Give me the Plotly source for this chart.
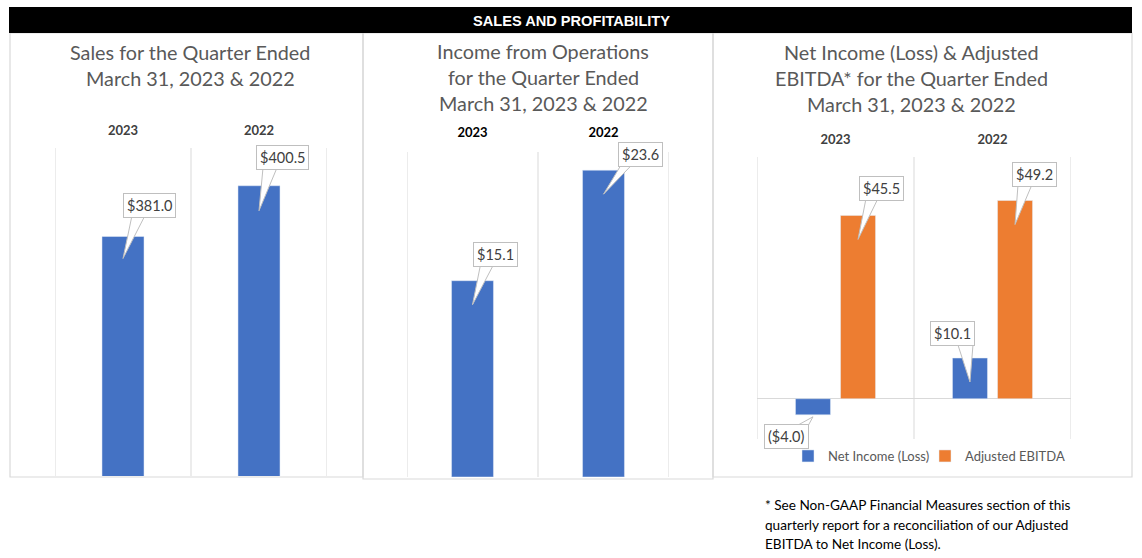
import plotly.graph_objects as go

# ---------------- data ----------------
header_text = "SALES AND PROFITABILITY"
years = ["2023", "2022"]

sales_title = ["Sales for the Quarter Ended", "March 31, 2023 & 2022"]
sales = [381.0, 400.5]

ops_title = ["Income from Operations", "for the Quarter Ended", "March 31, 2023 & 2022"]
income_ops = [15.1, 23.6]

ni_title = ["Net Income (Loss) & Adjusted", "EBITDA* for the Quarter Ended", "March 31, 2023 & 2022"]
net_income = [-4.0, 10.1]
adj_ebitda = [45.5, 49.2]
series_names = ["Net Income (Loss)", "Adjusted EBITDA"]

footnote = ["* See Non-GAAP Financial Measures section of this",
            "quarterly report for a reconciliation of our Adjusted",
            "EBITDA to Net Income (Loss)."]

# ---------------- style ----------------
W, H = 1142, 558
BLUE = "#4472C4"
ORANGE = "#ED7D31"
GRID = "#D9D9D9"
BORDER = "#D9D9D9"
TITLE_C = "#595959"
LABEL_C = "#404040"
FONT = "Lato"


def px(x):
    return x / W


def py(y):
    return 1 - y / H


def fmt(v):
    return f"(${abs(v):.1f})" if v < 0 else f"${v:.1f}"


xs = list(range(len(years)))

fig = go.Figure()

# panel 1
fig.add_trace(go.Bar(x=xs, y=sales, width=0.309, marker_color=BLUE,
                     xaxis="x", yaxis="y", showlegend=False, hoverinfo="skip"))
# panel 2
fig.add_trace(go.Bar(x=xs, y=income_ops, width=0.32, marker_color=BLUE,
                     xaxis="x2", yaxis="y2", showlegend=False, hoverinfo="skip"))
# panel 3
fig.add_trace(go.Bar(x=xs, y=net_income, width=0.223, offset=-0.255, marker_color=BLUE,
                     name=series_names[0], xaxis="x3", yaxis="y3", hoverinfo="skip",
                     legend="legend"))
fig.add_trace(go.Bar(x=xs, y=adj_ebitda, width=0.223, offset=0.032, marker_color=ORANGE,
                     name=series_names[1], xaxis="x3", yaxis="y3", hoverinfo="skip",
                     legend="legend2"))

panels = [
    # xaxis, yaxis, x domain px, y domain px (top, bottom), y range, tick colour, tick gap
    ("x", "y", (55, 327), (148, 476), [289, 415], LABEL_C, 7),
    ("x2", "y2", (407, 669), (152, 477), [0, 25], "#000000", 9),
    ("x3", "y3", (757, 1071), (157, 439), [-10, 60], LABEL_C, 7),
]

layout_axes = {}
shapes = []
for i, (xa, ya, (xl, xr), (yt, yb), yr, tc, tl) in enumerate(panels):
    xkey = "xaxis" if xa == "x" else "xaxis" + xa[1:]
    ykey = "yaxis" if ya == "y" else "yaxis" + ya[1:]
    layout_axes[xkey] = dict(
        domain=[px(xl), px(xr)], anchor=ya, range=[-0.5, len(years) - 0.5],
        side="top", tickmode="array", tickvals=xs, ticktext=years,
        ticks="outside", ticklen=tl, tickcolor="rgba(0,0,0,0)",
        tickfont=dict(family=FONT, size=13, color=tc, weight="bold"),
        showgrid=False, zeroline=False, showline=False, fixedrange=True,
    )
    layout_axes[ykey] = dict(
        domain=[py(yb), py(yt)], anchor=xa, range=yr,
        showticklabels=False, showgrid=False, showline=False, ticks="",
        zeroline=(i == 2), zerolinecolor=GRID, zerolinewidth=1, fixedrange=True,
    )
    for b in range(len(years) + 1):
        shapes.append(dict(type="line", xref=xa, yref=f"{ya} domain",
                           x0=b - 0.5, x1=b - 0.5, y0=0, y1=1,
                           line=dict(color=GRID, width=1), layer="below"))

# panel borders (layout)
for (l, t, r, b) in [(10, 33, 363, 477), (363, 33, 713, 479), (713, 33, 1132, 477)]:
    shapes.append(dict(type="rect", xref="paper", yref="paper",
                       x0=px(l), x1=px(r), y0=py(b), y1=py(t),
                       line=dict(color=BORDER, width=1.2), fillcolor="rgba(0,0,0,0)", layer="below"))

# header bar
shapes.append(dict(type="rect", xref="paper", yref="paper",
                   x0=px(9), x1=px(1132), y0=py(33), y1=py(7),
                   line=dict(width=0), fillcolor="#000000", layer="below"))

annotations = []
annotations.append(dict(text=f"<b>{header_text}</b>", xref="paper", yref="paper",
                        x=px(571), y=py(21), showarrow=False, xanchor="center", yanchor="middle",
                        font=dict(family="Liberation Sans", size=14.6, color="white")))

# titles
for lines, cx, ys in [(sales_title, 190, [52, 78]),
                      (ops_title, 543, [51, 77, 103]),
                      (ni_title, 912, [52, 78, 104])]:
    for line, yy in zip(lines, ys):
        annotations.append(dict(text=line, xref="paper", yref="paper", x=px(cx), y=py(yy),
                                showarrow=False, xanchor="center", yanchor="middle",
                                font=dict(family=FONT, size=19.8, color=TITLE_C)))

# callouts: (xaxis, yaxis, x position, value, bar centre offset in axis units,
#            box centre offset px (dx, dy down), wedge path points px (y up))
callouts = [
    ("x", "y", 0, sales[0], 0.0, (26, -31), [(0, -22), (9, 21), (22, 21)]),
    ("x", "y", 1, sales[1], 0.0, (23, -28), [(0, -25), (4, 18), (18, 18)]),
    ("x2", "y2", 0, income_ops[0], 0.0, (23, -26), [(0, -24), (8, 16), (21, 16)]),
    ("x2", "y2", 1, income_ops[1], 0.0, (37, -16), [(0, -24), (18, 6), (29, 6)]),
    ("x3", "y3", 0, net_income[0], -0.1435, (-26, 22), [(0, -2), (-20, -13), (-6, -13)]),
    ("x3", "y3", 1, net_income[1], -0.1435, (-17, -25), [(0, -24), (-12, 13), (3, 13)]),
    ("x3", "y3", 0, adj_ebitda[0], 0.1435, (23, -27), [(0, -24), (8, 17), (20, 17)]),
    ("x3", "y3", 1, adj_ebitda[1], 0.1435, (19, -26), [(0, -24), (3, 16), (17, 16)]),
]
for xa, ya, xi, v, off, (dx, dy), pts in callouts:
    xpos = xi + off
    path = "M " + " L ".join(f"{a},{b}" for a, b in pts) + " Z"
    shapes.append(dict(type="path", xref=xa, yref=ya, xsizemode="pixel", ysizemode="pixel",
                       xanchor=xpos, yanchor=v, path=path,
                       fillcolor="white", line=dict(color="#BFBFBF", width=1), layer="above"))
    annotations.append(dict(text=fmt(v), xref=xa, yref=ya, x=xpos, y=v,
                            xshift=dx, yshift=-dy, showarrow=False,
                            xanchor="center", yanchor="middle",
                            bgcolor="white", bordercolor="#BFBFBF", borderwidth=1, borderpad=3,
                            font=dict(family=FONT, size=14.5, color=LABEL_C)))

# footnote
for line, yy in zip(footnote, [505, 525, 544]):
    annotations.append(dict(text=line, xref="paper", yref="paper", x=px(763), y=py(yy),
                            showarrow=False, xanchor="left", yanchor="middle",
                            font=dict(family=FONT, size=13.6, color="#000000")))

legend_common = dict(orientation="h", yanchor="middle", y=py(456),
                     font=dict(family=FONT, size=13, color=TITLE_C), itemwidth=30,
                     bgcolor="rgba(0,0,0,0)", xanchor="left")

fig.update_layout(
    width=W, height=H, margin=dict(l=0, r=0, t=0, b=0),
    paper_bgcolor="white", plot_bgcolor="rgba(0,0,0,0)",
    barmode="overlay", shapes=shapes, annotations=annotations,
    legend=dict(x=px(788), **legend_common),
    legend2=dict(x=px(925), **legend_common),
    **layout_axes,
)

fig.write_html("out.html", config={"displayModeBar": False},
               post_script="document.body.style.margin='0';document.body.style.overflow='hidden';")
